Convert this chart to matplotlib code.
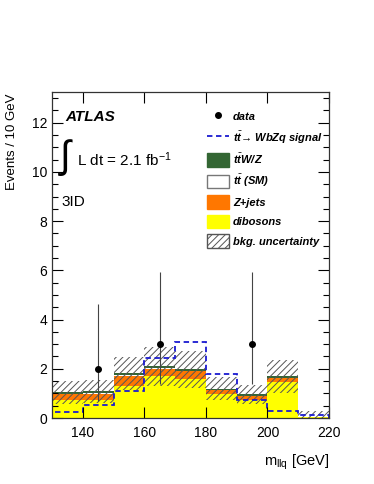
import numpy as np
import matplotlib
matplotlib.use("Agg")
import matplotlib.pyplot as plt
from matplotlib.patches import Patch
from matplotlib.lines import Line2D
from matplotlib.font_manager import FontProperties

plt.rcParams['font.family'] = ['Liberation Sans', 'DejaVu Sans']
plt.rcParams['mathtext.fontset'] = 'custom'
plt.rcParams['mathtext.rm'] = 'Liberation Sans'
plt.rcParams['mathtext.it'] = 'Liberation Sans:italic:bold'
plt.rcParams['mathtext.bf'] = 'Liberation Sans:bold'
plt.rcParams['hatch.linewidth'] = 0.7

# binning: m_llq in 10 GeV bins
edges = np.arange(130, 230, 10)
centers = edges[:-1] + 5

# background stack (events / bin)
dibosons = [0.72, 0.75, 1.30, 1.72, 1.60, 0.96, 0.75, 1.45, 0.04]
zjets    = [0.24, 0.24, 0.40, 0.28, 0.30, 0.16, 0.14, 0.16, 0.00]
ttbar_sm = [0.02, 0.02, 0.03, 0.03, 0.02, 0.02, 0.02, 0.02, 0.00]
ttv      = [0.06, 0.07, 0.08, 0.07, 0.06, 0.05, 0.05, 0.06, 0.00]
# upper edge of bkg uncertainty band
unc_up   = [1.50, 1.54, 2.49, 2.90, 2.74, 1.65, 1.35, 2.35, 0.30]

# signal tt -> WbZq
signal = [0.25, 0.51, 1.10, 2.44, 3.08, 1.78, 0.75, 0.30, 0.13]

# data
data_x = [145, 165, 195]
data_y = [2, 3, 3]
data_lo = [1.29, 1.63, 1.63]
data_hi = [2.64, 2.92, 2.92]

fig = plt.figure(figsize=(3.74, 4.84), dpi=100)
ax = fig.add_axes([52/374, 66/484, 277/374, 326/484])

col_dib = '#ffff00'
col_zj = '#ff7700'
col_tt = 'white'
col_ttv = '#336633'

bottom = np.zeros(len(centers))
for vals, c in [(dibosons, col_dib), (zjets, col_zj), (ttbar_sm, col_tt), (ttv, col_ttv)]:
    ax.bar(edges[:-1], vals, width=10, bottom=bottom, align='edge', color=c, linewidth=0)
    bottom = bottom + np.array(vals)

total = bottom
up = np.array(unc_up)
lo = np.clip(2 * total - up, 0, None)
ax.bar(edges[:-1], up - lo, width=10, bottom=lo, align='edge', facecolor='none',
       edgecolor='#555555', linewidth=0, hatch='/////')

ax.stairs(signal, edges, color='#1a1ad0', linestyle=(0, (3, 2)), linewidth=1.3)

ax.errorbar(data_x, data_y, yerr=[data_lo, data_hi], fmt='o', color='black',
            markersize=4, elinewidth=0.8, capsize=0, ecolor='#444444')

ax.set_xlim(130, 220)
ax.set_ylim(0, 13.25)
ax.set_xticks([140, 160, 180, 200, 220])
ax.set_yticks(np.arange(0, 13, 2))
ax.set_yticks(np.arange(0, 13.25, 0.5), minor=True)
ax.tick_params(which='both', direction='in', top=True, right=True, labelsize=10)
ax.tick_params(which='major', length=8, width=0.8)
ax.tick_params(which='minor', length=4, width=0.8)
ax.tick_params(axis='x', which='major', pad=6)
for s in ax.spines.values():
    s.set_linewidth(0.9)
    s.set_color('#333333')

fig.text(12/374, 1 - 93/484, 'Events / 10 GeV', rotation=90, ha='center', va='top', fontsize=9.5)
fig.text(329/374, 1 - 462/484, r'$\mathrm{m}_{\mathrm{llq}}$ [GeV]', ha='right', va='center', fontsize=10.5)

fig.text(65/374, 1 - 117/484, 'ATLAS', fontsize=11, fontweight='bold', fontstyle='italic', va='center')
fig.text(60/374, 1 - 158/484, '\u222b', fontsize=28, va='center')
fig.text(77/374, 1 - 160/484, r'L dt = 2.1 fb$^{\mathrm{-1}}$', fontsize=11, va='center')
fig.text(61/374, 1 - 202/484, '3ID', fontsize=11, va='center')

handles = [
    Line2D([], [], marker='o', color='black', linestyle='none', markersize=4),
    Line2D([], [], color='#1a1ad0', linestyle=(0, (3, 2)), linewidth=1.3),
    Patch(facecolor=col_ttv, edgecolor=col_ttv),
    Patch(facecolor='white', edgecolor='#777777'),
    Patch(facecolor=col_zj, edgecolor=col_zj),
    Patch(facecolor=col_dib, edgecolor=col_dib),
    Patch(facecolor='white', edgecolor='#555555', hatch='/////'),
]
labels = ['data', r'$t\bar{t}$' + '\u2192 WbZq signal', r'$t\bar{t}$W/Z', r'$t\bar{t}$ (SM)',
          'Z+jets', 'dibosons', 'bkg. uncertainty']
prop = FontProperties(family=['Liberation Sans', 'DejaVu Sans'], weight='bold', style='italic', size=8)
ax.legend(handles, labels, loc='upper left', bbox_to_anchor=(207/374, 1 - 110/484),
          bbox_transform=fig.transFigure, frameon=False, prop=prop,
          handlelength=2.0, handleheight=1.5, labelspacing=0.54, handletextpad=0.35,
          borderpad=0, borderaxespad=0)

fig.savefig('out.png', dpi=100)
